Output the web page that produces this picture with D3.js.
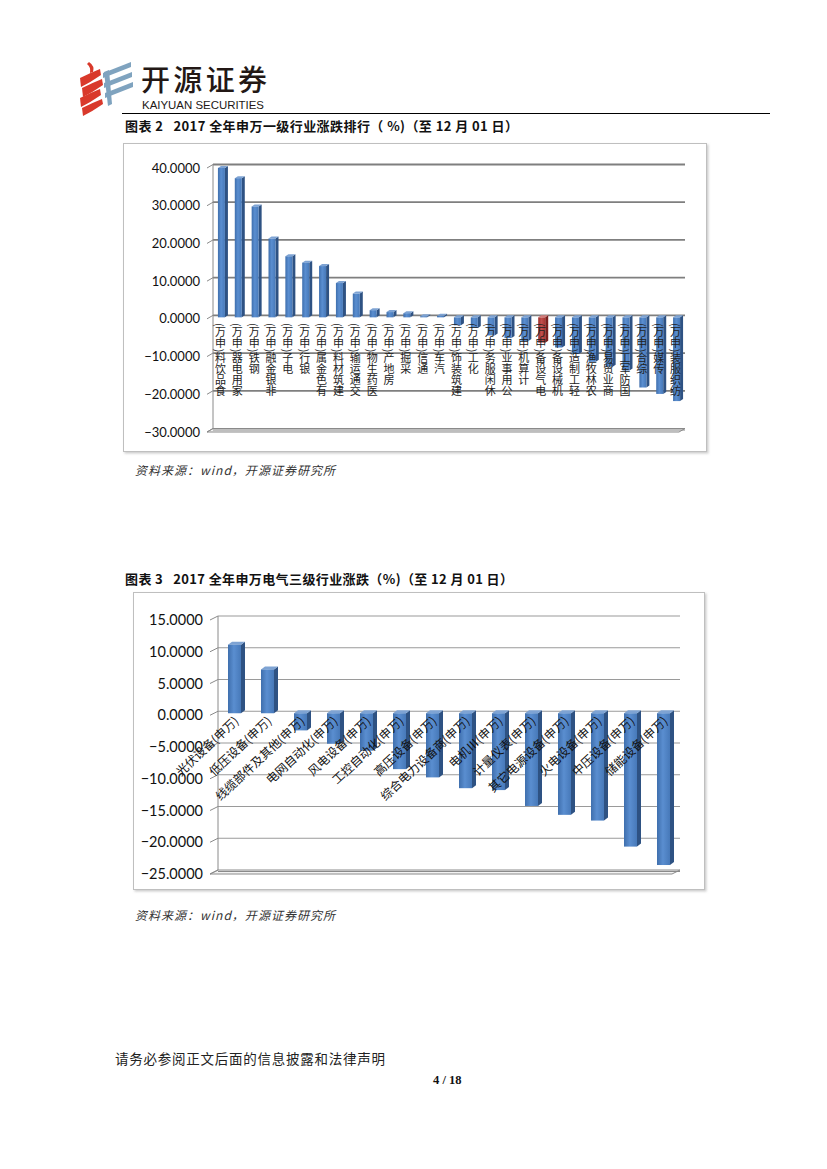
<!DOCTYPE html>
<html>
<head>
<meta charset="utf-8">
<script src="https://cdn.jsdelivr.net/npm/d3@7/dist/d3.min.js"></script>
<style>
  html, body { margin: 0; padding: 0; background: #fff; }
  svg { display: block; }
  .pre { white-space: pre; }
  .vert { writing-mode: vertical-rl; text-orientation: mixed; }
</style>
</head>
<body>
<script>
// ---------------- DATA ----------------
const cats1 = ["食品饮料(申万)","家用电器(申万)","钢铁(申万)","非银金融(申万)","电子(申万)","银行(申万)","有色金属(申万)","建筑材料(申万)","交通运输(申万)","医药生物(申万)","房地产(申万)","采掘(申万)","通信(申万)","汽车(申万)","建筑装饰(申万)","化工(申万)","休闲服务(申万)","公用事业(申万)","计算机(申万)","电气设备(申万)","机械设备(申万)","轻工制造(申万)","农林牧渔(申万)","商业贸易(申万)","国防军工(申万)","综合(申万)","传媒(申万)","纺织服装(申万)"];
const vals1 = [39.6, 36.9, 29.4, 20.9, 16.2, 14.5, 13.6, 9.1, 6.3, 1.9, 1.4, 1.1, 0.3, 0.4, -2.1, -2.8, -4.8, -5.5, -6.3, -6.7, -8.0, -9.7, -11.8, -13.1, -14.1, -18.6, -20.3, -22.2];
const ticks1 = [40, 30, 20, 10, 0, -10, -20, -30];
const highlight1 = "电气设备(申万)";

const cats2 = ["光伏设备(申万)","低压设备(申万)","线缆部件及其他(申万)","电网自动化(申万)","风电设备(申万)","工控自动化(申万)","高压设备(申万)","综合电力设备商(申万)","电机Ⅲ(申万)","计量仪表(申万)","其它电源设备(申万)","火电设备(申万)","中压设备(申万)","储能设备(申万)"];
const vals2 = [10.8, 6.9, -2.7, -4.8, -5.9, -8.8, -10.1, -11.8, -12.1, -14.6, -16.0, -16.9, -21.0, -23.9];
const ticks2 = [15, 10, 5, 0, -5, -10, -15, -20, -25];

const title1 = "图表 2   2017 全年申万一级行业涨跌排行（ %)（至 12 月 01 日）";
const title2 = "图表 3   2017 全年申万电气三级行业涨跌（%)（至 12 月 01 日）";
const sourceText = "资料来源：wind，开源证券研究所";
const footerText = "请务必参阅正文后面的信息披露和法律声明";
const pageText = "4 / 18";

// ---------------- SETUP ----------------
const W = 827, H = 1169;
const svg = d3.select("body").append("svg").attr("width", W).attr("height", H);
svg.append("rect").attr("width", W).attr("height", H).attr("fill", "#fff");
const CJK = "'Noto Sans CJK SC', 'Noto Sans', sans-serif";
const defs = svg.append("defs");

function grad(id, stops) {
  const g = defs.append("linearGradient").attr("id", id).attr("x1", "0").attr("x2", "1").attr("y1", "0").attr("y2", "0");
  stops.forEach(([o, c]) => g.append("stop").attr("offset", o).attr("stop-color", c));
}
grad("blueFront", [["0", "#3F6FAD"], ["0.45", "#5A8ED0"], ["1", "#4779B9"]]);
grad("redFront", [["0", "#9E2A27"], ["0.45", "#C0504D"], ["1", "#A83532"]]);
const blueStyle = { front: "url(#blueFront)", side: "#2E5283", top: "#7EA3D3" };
const redStyle = { front: "url(#redFront)", side: "#7A1F1D", top: "#D27B79" };

const f = defs.append("filter").attr("id", "shadow").attr("x", "-5%").attr("y", "-5%").attr("width", "110%").attr("height", "110%");
f.append("feDropShadow").attr("dx", 1.5).attr("dy", 1.5).attr("stdDeviation", 1).attr("flood-color", "#999").attr("flood-opacity", 0.5);

// ---------------- HEADER ----------------
const logo = svg.append("g");
const red = "#D9392B", blu = "#7FA3BF";
[[72, 6], [82, 6], [92, 6], [102, 5]].forEach(([y, h], i) => {
  const x0 = 80 + (i % 2) * 2;
  logo.append("path")
    .attr("d", `M${x0},${y + 6} Q${x0 + 10},${y + 1} ${x0 + 20},${y - 3} L${x0 + 21},${y - 3 + h} Q${x0 + 11},${y + 4 + h} ${x0 + 1},${y + 9 + h} Z`)
    .attr("fill", red);
});
logo.append("path").attr("d", "M89,62 Q95,66 93,72 L90,73 Q91,67 87,64 Z").attr("fill", red);
[68, 78, 88].forEach((y, i) => {
  const x0 = 103 + i;
  logo.append("path")
    .attr("d", `M${x0},${y + 5} L${x0 + 28},${y - 6} L${x0 + 28},${y - 1} L${x0},${y + 10} Z`)
    .attr("fill", blu);
});
logo.append("path").attr("d", "M104,72 L109,70 L112,104 L108,106 Z").attr("fill", blu);

svg.append("text").attr("x", 141).attr("y", 91).attr("font-family", CJK).attr("font-size", 29)
  .attr("font-weight", 500).attr("fill", "#231815").attr("textLength", 126).text("开源证券");
svg.append("text").attr("x", 142).attr("y", 108.5).attr("font-family", "'Liberation Sans', Arial, sans-serif")
  .attr("font-size", 10.5).attr("fill", "#231815").attr("textLength", 122).attr("lengthAdjust", "spacingAndGlyphs").text("KAIYUAN SECURITIES");
svg.append("line").attr("x1", 122).attr("x2", 770).attr("y1", 113.5).attr("y2", 113.5).attr("stroke", "#000").attr("stroke-width", 1);

// ---------------- HELPERS ----------------
function drawBars(g, cats, vals, x, y, w, dx, dy, styleFor) {
  const y0 = y(0);
  cats.forEach((c, i) => {
    const v = vals[i];
    const cx = x(c) + x.bandwidth() / 2;
    const yv = y(v);
    const yTop = Math.min(yv, y0), yBot = Math.max(yv, y0);
    const st = styleFor(c);
    const xl = cx - w / 2, xr = cx + w / 2;
    g.append("path").attr("d", `M${xr},${yTop} L${xr + dx},${yTop - dy} L${xr + dx},${yBot - dy} L${xr},${yBot} Z`).attr("fill", st.side);
    g.append("path").attr("d", `M${xl},${yTop} L${xl + dx},${yTop - dy} L${xr + dx},${yTop - dy} L${xr},${yTop} Z`).attr("fill", st.top);
    g.append("rect").attr("x", xl).attr("y", yTop).attr("width", w).attr("height", Math.max(0.6, yBot - yTop)).attr("fill", st.front);
  });
}

function drawFrame(g, ticks, y, xBack, xEnd, ox, oy, fmtSize, labelX, gridColor, gridW, vmin) {
  ticks.forEach(t => {
    if (t === vmin) return;
    g.append("line").attr("x1", xBack).attr("x2", xEnd).attr("y1", y(t) - oy).attr("y2", y(t) - oy)
      .attr("stroke", gridColor).attr("stroke-width", gridW);
  });
  g.append("line").attr("x1", xBack).attr("x2", xBack).attr("y1", y(ticks[0]) - oy).attr("y2", y(vmin) - oy)
    .attr("stroke", "#8a8a8a").attr("stroke-width", 1);
  const yf = y(vmin);
  g.append("path").attr("d", `M${xBack},${yf - oy} L${xEnd},${yf - oy} L${xEnd - ox},${yf} L${xBack - ox},${yf} Z`)
    .attr("fill", "#f2f2f2").attr("stroke", "#8a8a8a").attr("stroke-width", 1);
  g.append("line").attr("x1", xBack).attr("x2", xEnd).attr("y1", yf - oy + 1.5).attr("y2", yf - oy + 1.5)
    .attr("stroke", "#8a8a8a").attr("stroke-width", 1.2);
  ticks.forEach(t => {
    g.append("line").attr("x1", xBack - ox).attr("y1", y(t)).attr("x2", xBack).attr("y2", y(t) - oy)
      .attr("stroke", "#8a8a8a").attr("stroke-width", 1);
    g.append("text").attr("x", labelX).attr("y", y(t)).attr("dy", "0.35em").attr("text-anchor", "end")
      .attr("font-family", "Lato, 'Open Sans', sans-serif").attr("font-size", fmtSize).attr("fill", "#111")
      .text(d3.format(".4f")(t));
  });
}

// Bottom-to-top label with upright CJK glyphs: reverse the string, swap parentheses,
// and set it in vertical writing mode (top-to-bottom).
function vertLabel(g, label, cx, yTop, fs) {
  const swapped = Array.from(label).reverse().map(ch => ch === "(" ? ")" : ch === ")" ? "(" : ch).join("");
  g.append("text").attr("class", "vert").attr("x", cx).attr("y", yTop)
    .attr("font-family", CJK).attr("font-size", fs).attr("fill", "#222").text(swapped);
}

// ---------------- CHART 1 ----------------
svg.append("text").attr("class", "pre").attr("x", 125).attr("y", 131).attr("font-family", CJK).attr("font-weight", 700)
  .attr("font-size", 13).attr("fill", "#111").attr("textLength", 393).attr("lengthAdjust", "spacing").text(title1);
svg.append("rect").attr("x", 123.5).attr("y", 143.5).attr("width", 583).attr("height", 308)
  .attr("fill", "#fff").attr("stroke", "#bfbfbf").attr("stroke-width", 1).attr("filter", "url(#shadow)");

const g1 = svg.append("g");
const y1 = d3.scaleLinear().domain([-30, 40]).range([432, 168]);
const x1 = d3.scaleBand().domain(cats1).range([213, 685]).paddingInner(0).paddingOuter(0);
drawFrame(g1, ticks1, y1, 213, 685, 6, 3.5, 13, 200, "#7f7f7f", 1.8, -30);
drawBars(g1, cats1, vals1, x1, d3.scaleLinear().domain([-30, 40]).range([430.5, 166.5]), 7, 3, 2,
  c => c === highlight1 ? redStyle : blueStyle);
cats1.forEach(c => vertLabel(g1, c, x1(c) + x1.bandwidth() / 2 - 1, 323, 11));

svg.append("text").attr("x", 135).attr("y", 475).attr("font-family", CJK).attr("font-style", "italic")
  .attr("font-size", 12).attr("fill", "#333").attr("textLength", 200).text(sourceText);

// ---------------- CHART 2 ----------------
svg.append("text").attr("class", "pre").attr("x", 125).attr("y", 584).attr("font-family", CJK).attr("font-weight", 700)
  .attr("font-size", 13).attr("fill", "#111").attr("textLength", 388).attr("lengthAdjust", "spacing").text(title2);
svg.append("rect").attr("x", 133.5).attr("y", 592.5).attr("width", 571).attr("height", 297)
  .attr("fill", "#fff").attr("stroke", "#bfbfbf").attr("stroke-width", 1).attr("filter", "url(#shadow)");

const g2 = svg.append("g");
const y2 = d3.scaleLinear().domain([-25, 15]).range([874, 620]);
const x2 = d3.scaleBand().domain(cats2).range([218, 680]).paddingInner(0).paddingOuter(0);
drawFrame(g2, ticks2, y2, 218, 680, 8, 4, 14.5, 203, "#9a9a9a", 1.2, -25);
drawBars(g2, cats2, vals2, x2, d3.scaleLinear().domain([-25, 15]).range([872, 618]), 13, 4, 3, () => blueStyle);
cats2.forEach(c => {
  const cx = x2(c) + x2.bandwidth() / 2;
  g2.append("text").attr("text-anchor", "end").attr("font-family", CJK).attr("font-size", 12).attr("fill", "#111")
    .attr("transform", `translate(${cx + 5},${722}) rotate(-43)`).text(c);
});

svg.append("text").attr("x", 135).attr("y", 920).attr("font-family", CJK).attr("font-style", "italic")
  .attr("font-size", 12).attr("fill", "#333").attr("textLength", 200).text(sourceText);

// ---------------- FOOTER ----------------
svg.append("text").attr("x", 115).attr("y", 1064).attr("font-family", CJK).attr("font-size", 13.5)
  .attr("fill", "#222").attr("textLength", 270).text(footerText);
svg.append("text").attr("class", "pre").attr("x", 433).attr("y", 1084).attr("font-family", "'Liberation Serif', serif").attr("font-weight", 700)
  .attr("font-size", 12.5).attr("fill", "#111").text(pageText);
</script>
</body>
</html>
